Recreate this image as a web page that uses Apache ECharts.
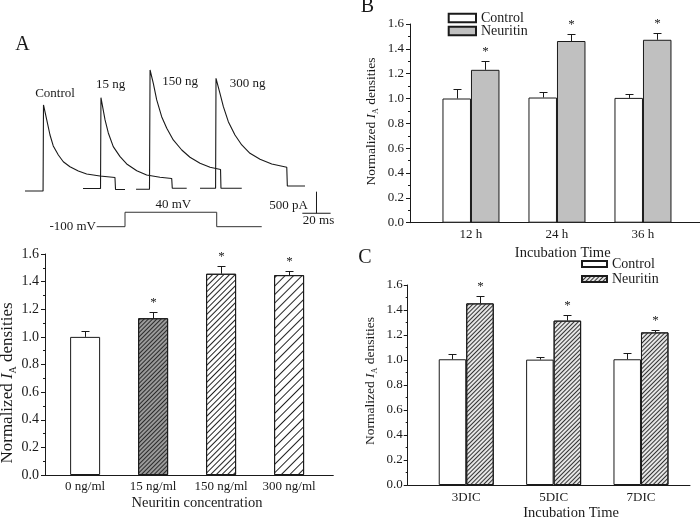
<!DOCTYPE html>
<html><head><meta charset="utf-8">
<script src="https://cdn.jsdelivr.net/npm/echarts@6/dist/echarts.min.js"></script>
<style>html,body{margin:0;padding:0;background:#fff}#c{width:700px;height:518px}</style>
</head><body><div id="c"></div>
<script>
// ---------- Panel A (top): current traces, [time ms, current pA] ----------
const traceControl = [[3.5,0],[16.3,0],[16.6,1991],[18.9,1644],[21.2,1296],[23.5,1042],[27.1,833],[30.6,676],[35.3,562],[41.2,463],[47.1,394],[56.5,347],[67.1,313],[67.5,35],[74.2,35]];
const trace15 = [[44.5,58],[56.9,58],[57.2,2160],[60.1,1644],[62.4,1343],[65.9,1026],[70.7,794],[75.4,625],[82.5,470],[89.5,370],[98.9,317],[107.2,289],[107.6,62],[117.8,62]];
const trace150 = [[82.0,39],[91.5,39],[91.9,2801],[94.2,2493],[96.6,2107],[100.1,1720],[103.7,1451],[108.3,1181],[114.3,949],[120.1,780],[127.2,641],[134.3,549],[141.7,498],[142.0,62],[156.7,62]];
const trace300 = [[127.2,62],[138.2,62],[138.5,2609],[141.3,2262],[143.7,1952],[147.2,1604],[151.9,1296],[156.7,1065],[162.5,873],[169.6,734],[177.9,625],[188.5,549],[188.9,116],[201.4,116]];
const traceNames = ['Control','15 ng','150 ng','300 ng'];
// voltage protocol [time ms, mV]
const protocol = [[54.2,-100],[74.2,-100],[74.2,40],[139.0,40],[139.0,-100],[170.8,-100]];
const scaleBarPA = 500, scaleBarMS = 20;
const scaleBarAnchor = [209.5, -516];

// ---------- Panel A (bottom) ----------
const aCats = ['0 ng/ml','15 ng/ml','150 ng/ml','300 ng/ml'];
const aMeans = [1.0, 1.135, 1.457, 1.447];
const aErrs = [0.043, 0.044, 0.057, 0.033];
const aSig = [0, 1, 1, 1];

// ---------- Panel B ----------
const bCats = ['12 h','24 h','36 h'];
const bControl = [1.0, 1.008, 1.005];
const bControlErr = [0.075, 0.042, 0.033];
const bNeuritin = [1.231, 1.463, 1.473];
const bNeuritinErr = [0.073, 0.059, 0.054];

// ---------- Panel C ----------
const cCats = ['3DIC','5DIC','7DIC'];
const cControl = [1.006, 1.003, 1.006];
const cControlErr = [0.04, 0.024, 0.048];
const cNeuritin = [1.453, 1.315, 1.221];
const cNeuritinErr = [0.057, 0.042, 0.022];

const FONT = '"Liberation Serif","Times New Roman",serif';
const INK = '#1a1a1a';

function hatch(gap, color, bg) {
  return { symbol:'rect', symbolSize:1, dashArrayX:[1,0], dashArrayY:[1,gap], rotation:-Math.PI/4, color:color, backgroundColor:bg };
}

function yAx(gi, fs, margin) {
  return { type:'value', gridIndex:gi, min:0, max:1.6, interval:0.2,
    axisLine:{show:true, lineStyle:{color:INK, width:1}},
    axisTick:{show:true, inside:false, length:4, lineStyle:{color:INK}},
    minorTick:{show:true, splitNumber:2, length:2, lineStyle:{color:INK}},
    splitLine:{show:false}, minorSplitLine:{show:false},
    axisLabel:{fontFamily:FONT, fontSize:fs, color:INK, margin:margin, formatter:v=>v.toFixed(1)} };
}
function xAx(gi, min, max, cats, fs, margin) {
  return { type:'value', gridIndex:gi, min:min, max:max,
    axisLine:{show:true, onZero:false, lineStyle:{color:INK, width:1}},
    axisTick:{show:false}, splitLine:{show:false},
    axisLabel:{fontFamily:FONT, fontSize:fs, color:INK, margin:margin,
      customValues: cats.map((c,i)=>i+1),
      formatter: v => cats[Math.round(v)-1] || ''} };
}

function errSeries(xi, yi, means, errs, sig, off) {
  return { type:'custom', xAxisIndex:xi, yAxisIndex:yi, silent:true, z:5,
    data: means.map((m,i)=>[i+1, m, errs[i], sig[i]]),
    renderItem(params, api) {
      const x = api.value(0), m = api.value(1), e = api.value(2), s = api.value(3);
      const p0 = api.coord([x, m]), p1 = api.coord([x, m+e]);
      const cx = Math.round(p0[0] + off) + 0.5, y1 = Math.round(p1[1]) + 0.5;
      const ch = [
        {type:'line', shape:{x1:cx, y1:p0[1], x2:cx, y2:y1}, style:{stroke:INK, lineWidth:1}},
        {type:'line', shape:{x1:cx-4, y1:y1, x2:cx+4, y2:y1}, style:{stroke:INK, lineWidth:1}}
      ];
      if (s) ch.push({type:'text', x:cx, y:y1-3, style:{text:'*', fill:INK, font:'13px '+FONT, align:'center', verticalAlign:'bottom'}});
      return {type:'group', children:ch};
    } };
}

const series = [];
// traces
[traceControl, trace15, trace150, trace300].forEach((d,i)=>{
  series.push({type:'line', name:'trace-'+traceNames[i], xAxisIndex:0, yAxisIndex:0, data:d, showSymbol:false, silent:true,
    lineStyle:{color:INK, width:1.1}});
});
series.push({type:'line', name:'protocol', xAxisIndex:1, yAxisIndex:1, data:protocol, showSymbol:false, silent:true, lineStyle:{color:'#333', width:1}});
// scale bars
series.push({type:'line', name:'sb1', xAxisIndex:0, yAxisIndex:0, showSymbol:false, silent:true, lineStyle:{color:INK, width:1},
  data:[[scaleBarAnchor[0], scaleBarAnchor[1]],[scaleBarAnchor[0], scaleBarAnchor[1]+scaleBarPA]]});
series.push({type:'line', name:'sb2', xAxisIndex:0, yAxisIndex:0, showSymbol:false, silent:true, lineStyle:{color:INK, width:1},
  data:[[scaleBarAnchor[0]-scaleBarMS/2, scaleBarAnchor[1]],[scaleBarAnchor[0]+scaleBarMS/2, scaleBarAnchor[1]]]});

// A bars
const aStyles = [
  {color:'#ffffff', borderColor:INK, borderWidth:1},
  {color:'#9a9a9a', borderColor:INK, borderWidth:1, decal:hatch(1.2,'#2a2a2a')},
  {color:'#ffffff', borderColor:INK, borderWidth:1, decal:hatch(3,'#222')},
  {color:'#ffffff', borderColor:INK, borderWidth:1, decal:hatch(4.5,'#222')}
];
series.push({type:'bar', name:'A', xAxisIndex:2, yAxisIndex:2, barWidth:30,
  data: aMeans.map((v,i)=>({value:[i+1, v], itemStyle:aStyles[i]}))});
series.push(errSeries(2,2,aMeans,aErrs,aSig,0));

// B bars
series.push({type:'bar', name:'Control', xAxisIndex:3, yAxisIndex:3, barWidth:28.5, barGap:'0%',
  itemStyle:{color:'#ffffff', borderColor:INK, borderWidth:1},
  data: bControl.map((v,i)=>[i+1, v])});
series.push({type:'bar', name:'Neuritin', xAxisIndex:3, yAxisIndex:3, barWidth:28.5, barGap:'0%',
  itemStyle:{color:'#c0c0c0', borderColor:INK, borderWidth:1},
  data: bNeuritin.map((v,i)=>[i+1, v])});
series.push(errSeries(3,3,bControl,bControlErr,[0,0,0],-14.25));
series.push(errSeries(3,3,bNeuritin,bNeuritinErr,[1,1,1],14.25));

// C bars
series.push({type:'bar', name:'C-Control', xAxisIndex:4, yAxisIndex:4, barWidth:27.5, barGap:'0%',
  itemStyle:{color:'#ffffff', borderColor:INK, borderWidth:1},
  data: cControl.map((v,i)=>[i+1, v])});
series.push({type:'bar', name:'C-Neuritin', xAxisIndex:4, yAxisIndex:4, barWidth:27.5, barGap:'0%',
  itemStyle:{color:'#e6e6e6', borderColor:INK, borderWidth:1, decal:hatch(1.6,'#333')},
  data: cNeuritin.map((v,i)=>[i+1, v])});
series.push(errSeries(4,4,cControl,cControlErr,[0,0,0],-13.75));
series.push(errSeries(4,4,cNeuritin,cNeuritinErr,[1,1,1],13.75));

function txt(x, y, s, size, align) {
  return {type:'text', x:x, y:y, silent:true,
    style:{text:s, fill:INK, font:size+'px '+FONT, align:align||'center', verticalAlign:'middle'}};
}
function yTitle(x, y, size) {
  return {type:'text', x:x, y:y, rotation:Math.PI/2, silent:true,
    style:{text:'{n|Normalized }{i|I}{s|A}{n| densities}', fill:INK, align:'center', verticalAlign:'middle',
      rich:{
        n:{fontFamily:FONT, fontSize:size, fill:INK, lineHeight:size+4},
        i:{fontFamily:FONT, fontSize:size, fontStyle:'italic', fill:INK, lineHeight:size+4},
        s:{fontFamily:FONT, fontSize:Math.round(size*0.6), fill:INK, lineHeight:size+4, verticalAlign:'bottom'}
      }}};
}

const option = {
  animation:false,
  backgroundColor:'#ffffff',
  grid:[
    {left:20, width:325.5, top:61.4, height:159.8},
    {left:20, width:325.5, top:210.2, height:20.6},
    {left:45, width:288.3, top:254, height:221},
    {left:410, width:290, top:24, height:198.7},
    {left:407.7, width:282.3, top:285, height:200}
  ],
  xAxis:[
    {type:'value', gridIndex:0, min:0, max:230, show:false},
    {type:'value', gridIndex:1, min:0, max:230, show:false},
    xAx(2, 0.41, 4.65, aCats, 13, 5),
    xAx(3, 0.291, 3.663, bCats, 13, 5),
    xAx(4, 0.33, 3.561, cCats, 13, 6)
  ],
  yAxis:[
    {type:'value', gridIndex:0, min:-700, max:3000, show:false},
    {type:'value', gridIndex:1, min:-140, max:60, show:false},
    yAx(2, 14, 6),
    yAx(3, 13, 6),
    yAx(4, 13, 5)
  ],
  legend:[
    {data:['Control','Neuritin'], orient:'vertical', left:442.7, top:6, itemWidth:27.3, itemHeight:8.5, itemGap:-1,
      icon:'rect', selectedMode:false, textStyle:{fontFamily:FONT, fontSize:14, color:INK}},
    {data:['C-Control','C-Neuritin'], orient:'vertical', left:576, top:252, itemWidth:25, itemHeight:6, itemGap:1,
      icon:'rect', selectedMode:false, formatter:n=>n.replace('C-',''), textStyle:{fontFamily:FONT, fontSize:14, color:INK}}
  ],
  graphic:[
    txt(22.5, 45, 'A', 20), txt(367.5, 7, 'B', 20), txt(365, 257.5, 'C', 20),
    txt(55, 93.3, traceNames[0], 13), txt(110.5, 85, traceNames[1], 13), txt(180, 81.7, traceNames[2], 13), txt(247.5, 83.3, traceNames[3], 13),
    txt(96, 226.2, '-100 mV', 13, 'right'),
    txt(173.3, 205, '40 mV', 13),
    txt(308, 206, '500 pA', 13, 'right'),
    txt(318.5, 221, '20 ms', 13),
    txt(197, 503.3, 'Neuritin concentration', 14.5),
    txt(562.7, 253, 'Incubation Time', 14.5),
    txt(571, 513.3, 'Incubation Time', 14.5),
    yTitle(8, 383, 17), yTitle(371.5, 121.5, 13.5), yTitle(370, 381, 13.5)
  ],
  series: series
};
const chart = echarts.init(document.getElementById('c'), null, {renderer:'canvas'});
chart.setOption(option);
</script></body></html>
